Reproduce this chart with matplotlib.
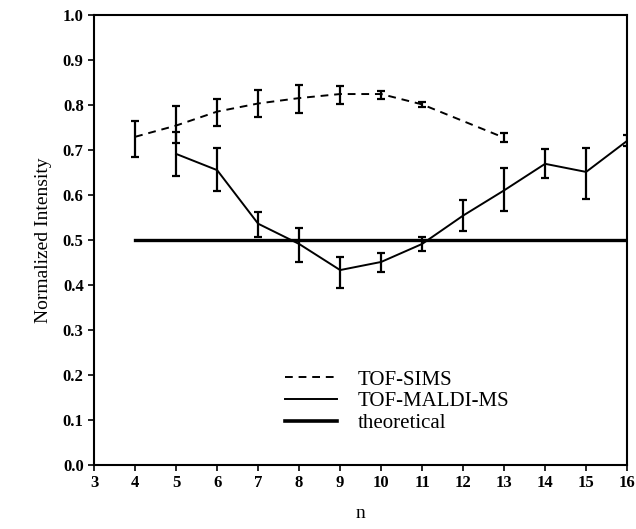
import numpy as np
import matplotlib.pyplot as plt
from matplotlib.lines import Line2D

plt.rcParams['font.family'] = ['Liberation Serif', 'DejaVu Serif']

# TOF-SIMS (dashed) -- no point at n=12
sims_n = [4, 5, 6, 7, 8, 9, 10, 11, 13]
sims_y = [0.729, 0.754, 0.785, 0.803, 0.815, 0.824, 0.824, 0.801, 0.727]
sims_lo = [0.684, 0.716, 0.754, 0.774, 0.783, 0.801, 0.812, 0.795, 0.717]
sims_hi = [0.765, 0.797, 0.812, 0.833, 0.844, 0.842, 0.830, 0.807, 0.737]

# TOF-MALDI-MS (solid)
maldi_n = [5, 6, 7, 8, 9, 10, 11, 12, 13, 14, 15, 16]
maldi_y = [0.691, 0.655, 0.536, 0.491, 0.433, 0.451, 0.491, 0.554, 0.610, 0.669, 0.651, 0.720]
maldi_lo = [0.642, 0.608, 0.507, 0.451, 0.394, 0.428, 0.476, 0.520, 0.565, 0.637, 0.590, 0.708]
maldi_hi = [0.740, 0.704, 0.563, 0.527, 0.462, 0.471, 0.506, 0.588, 0.660, 0.702, 0.704, 0.732]

# theoretical
theo_n = [4, 16]
theo_y = [0.5, 0.5]

fig = plt.figure(figsize=(6.36, 5.29), dpi=100)
ax = fig.add_axes([0.148, 0.121, 0.838, 0.851])

dash = (0, (4, 3))
sims_err = [np.array(sims_y) - np.array(sims_lo), np.array(sims_hi) - np.array(sims_y)]
maldi_err = [np.array(maldi_y) - np.array(maldi_lo), np.array(maldi_hi) - np.array(maldi_y)]

ax.errorbar(sims_n, sims_y, yerr=sims_err, color='black', linestyle=dash,
            linewidth=1.4, capsize=3, elinewidth=1.6, capthick=1.6)
ax.errorbar(maldi_n, maldi_y, yerr=maldi_err, color='black', linestyle='-',
            linewidth=1.4, capsize=3, elinewidth=1.6, capthick=1.6)
ax.plot(theo_n, theo_y, color='black', linewidth=2.4)

ax.set_xlim(3, 16)
ax.set_ylim(0, 1.0)
ax.set_xticks(range(3, 17))
ax.set_yticks(np.arange(0, 1.01, 0.1))
ax.set_yticklabels([f'{v:.1f}' for v in np.arange(0, 1.01, 0.1)])
for lab in ax.get_xticklabels() + ax.get_yticklabels():
    lab.set_fontweight('bold')
    lab.set_fontsize(12)
ax.tick_params(direction='out', length=4, width=1.2)
for s in ax.spines.values():
    s.set_linewidth(1.5)

ax.set_xlabel('n', fontsize=14, labelpad=10)
ax.set_ylabel('Normalized Intensity', fontsize=14, labelpad=8)

handles = [
    Line2D([], [], color='black', linestyle=dash, linewidth=1.4),
    Line2D([], [], color='black', linestyle='-', linewidth=1.4),
    Line2D([], [], color='black', linestyle='-', linewidth=2.6),
]
ax.legend(handles, ['TOF-SIMS', 'TOF-MALDI-MS', 'theoretical'],
          loc='upper left', bbox_to_anchor=(0.33, 0.243), frameon=False,
          fontsize=15, handlelength=2.5, labelspacing=0.1, handletextpad=1.0,
          borderpad=0.2)

fig.savefig('out.png', dpi=100)
